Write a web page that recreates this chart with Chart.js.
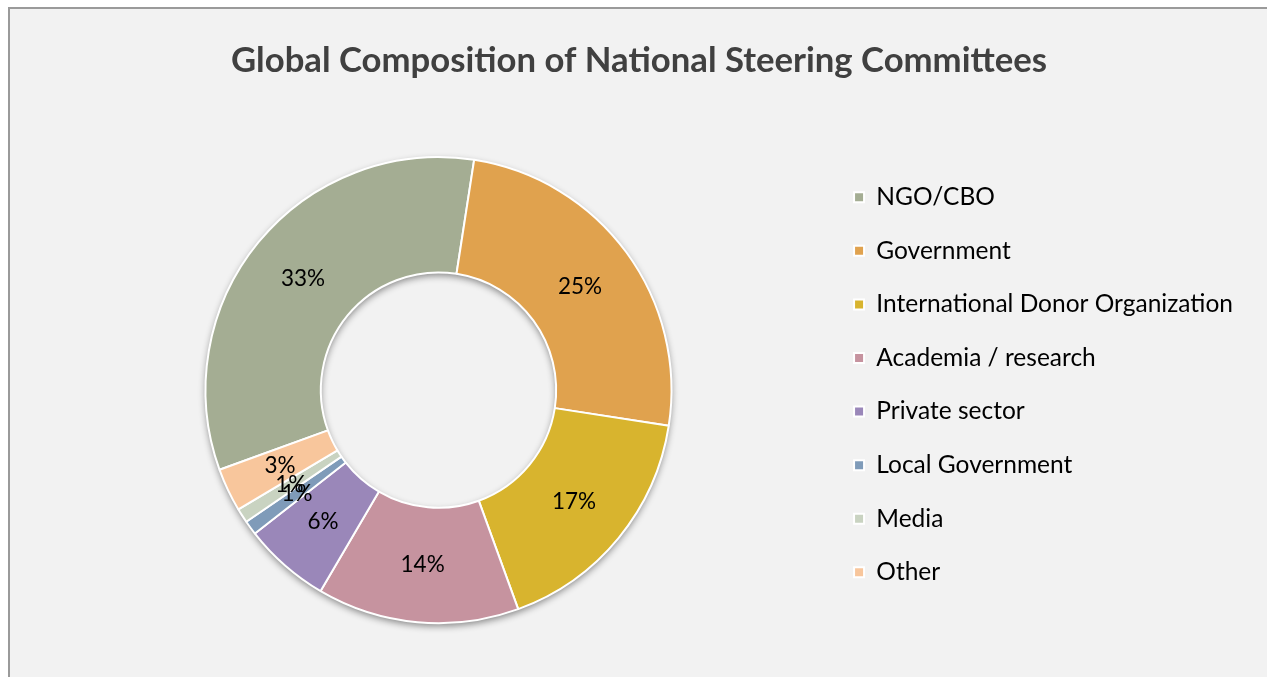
<!DOCTYPE html>
<html>
<head>
<meta charset="utf-8">
<script src="https://cdn.jsdelivr.net/npm/chart.js@4.4.1/dist/chart.umd.min.js"></script>
<style>
    html, body { margin: 0; padding: 0; background: #ffffff; }
    #frame {
        position: absolute;
        left: 8px;
        top: 7px;
        width: 1259px;
        height: 670px;
        background: #f2f2f2;
        border-top: 2px solid #9a9a9a;
        border-left: 2px solid #9a9a9a;
    }
    #chart1 { display: block; }
</style>
</head>
<body>
<div id="frame"><canvas id="chart1" width="1257" height="668"></canvas></div>
<script>
const categories = ['NGO/CBO', 'Government', 'International Donor Organization', 'Academia / research',
    'Private sector', 'Local Government', 'Media', 'Other'];
const shares = [33, 25, 17, 14, 6, 1, 1, 3];
const sliceColors = ['#a4ad93', '#e0a24e', '#d8b42e', '#c6939f', '#9a87b9', '#7f9bb9', '#c9d3c1', '#f8c69c'];

// soft drop shadow under the ring, painted before the slices
const ringShadow = {
    id: 'ringShadow',
    beforeDatasetsDraw(chart) {
        const arc = chart.getDatasetMeta(0).data[0];
        if (!arc) return;
        const { x, y, outerRadius, innerRadius } = arc.getProps(['x', 'y', 'outerRadius', 'innerRadius'], true);
        const ctx = chart.ctx;
        ctx.save();
        ctx.shadowColor = 'rgba(0, 0, 0, 0.45)';
        ctx.shadowBlur = 7;
        ctx.shadowOffsetY = 3;
        ctx.beginPath();
        ctx.arc(x, y, outerRadius, 0, Math.PI * 2);
        ctx.arc(x, y, innerRadius, Math.PI * 2, 0, true);
        ctx.fillStyle = '#ffffff';
        ctx.fill();
        ctx.restore();
    }
};

// percentage labels in the middle of each slice
const sliceLabels = {
    id: 'sliceLabels',
    afterDatasetsDraw(chart) {
        const ctx = chart.ctx;
        const meta = chart.getDatasetMeta(0);
        ctx.save();
        ctx.font = '22.5px Lato';
        ctx.fillStyle = '#000000';
        ctx.textAlign = 'center';
        ctx.textBaseline = 'middle';
        meta.data.forEach((arc, i) => {
            const p = arc.getCenterPoint();
            ctx.fillText(shares[i] + '%', p.x, p.y);
        });
        ctx.restore();
    }
};

// legend reserves a narrower column (keeps the ring centred) but may paint past it
const legendOverflow = {
    id: 'legendOverflow',
    afterLayout(chart) {
        const lg = chart.legend;
        if (!lg) return;
        lg.right = chart.width;
        lg.width = lg.right - lg.left;
    }
};

new Chart(document.getElementById('chart1'), {
    type: 'doughnut',
    data: {
        labels: categories,
        datasets: [{
            data: shares,
            backgroundColor: sliceColors,
            borderColor: '#ffffff',
            borderWidth: 2,
            clip: false
        }]
    },
    options: {
        responsive: false,
        animation: false,
        rotation: -110,
        radius: 233,
        cutout: '50.5%',
        layout: { padding: { left: 42, right: 41, top: 0, bottom: 63.4 } },
        plugins: {
            title: {
                display: true,
                text: 'Global Composition of National Steering Committees',
                color: '#404040',
                font: { family: 'Lato', size: 34.7, weight: 'bold' },
                padding: { top: 31, bottom: 85 }
            },
            legend: {
                position: 'right',
                align: 'end',
                maxWidth: 401,
                labels: {
                    boxWidth: 10,
                    boxHeight: 10,
                    padding: 29.07,
                    color: '#000000',
                    font: { family: 'Lato', size: 24.5 }
                }
            },
            tooltip: { enabled: false }
        }
    },
    plugins: [ringShadow, sliceLabels, legendOverflow]
});
</script>
</body>
</html>
